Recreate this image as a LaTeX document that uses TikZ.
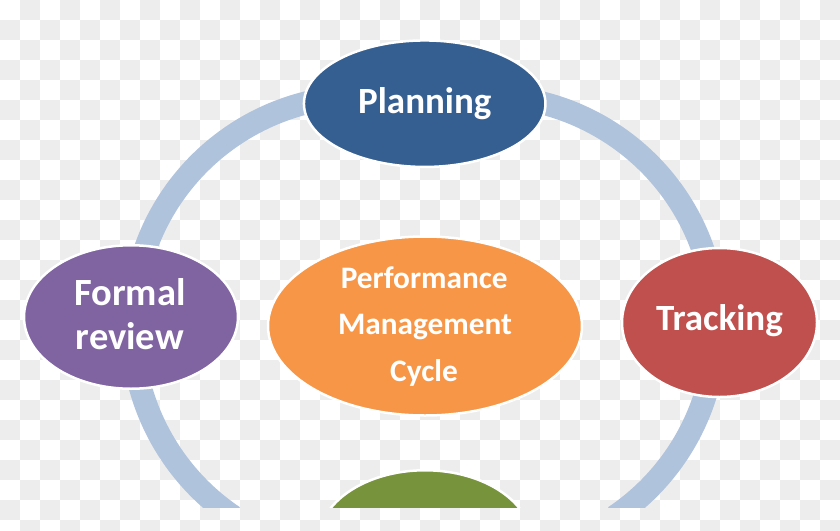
\documentclass[tikz,border=0pt]{standalone}
\usepackage{fontspec}
\newfontfamily\calfont{Carlito}
\usetikzlibrary{shapes.geometric}
\definecolor{ringc}{RGB}{176,195,221}
\definecolor{chk}{RGB}{237,237,237}
\definecolor{planc}{RGB}{54,95,145}
\definecolor{trackc}{RGB}{192,80,77}
\definecolor{formc}{RGB}{128,100,162}
\definecolor{pmcc}{RGB}{247,150,70}
\definecolor{greenc}{RGB}{119,147,60}
\begin{document}
\begin{tikzpicture}[x=1pt,y=-1pt,
  ell/.style={ellipse, draw=white, line width=2.5pt, inner sep=0pt},
  ring/.style={draw=ringc, line width=23pt},
  lbl/.style={text=white, font=\calfont\bfseries\fontsize{37}{42}\selectfont, anchor=base, inner sep=0pt},
  lblf/.style={text=white, font=\calfont\bfseries\fontsize{38.5}{44}\selectfont, anchor=base, inner sep=0pt},
  lblc/.style={text=white, font=\calfont\bfseries\fontsize{31.3}{37}\selectfont, anchor=base, inner sep=0pt}]
\useasboundingbox (0,0) rectangle (840,530);
\clip (0,0) rectangle (840,530);
% checkerboard background
\fill[white] (0,0) rectangle (840,530);
\foreach \i in {0,...,20}{
  \foreach \j in {0,...,13}{
    \fill[chk] (40*\i+20,40*\j) rectangle ++(20,20);
    \fill[chk] (40*\i,40*\j+20) rectangle ++(20,20);
  }
}
\begin{scope}
\clip (0,0) rectangle (840,507);
% ring centres
\coordinate (cl) at (362,326);
\coordinate (cr) at (486,326);
\draw[ring] (cl) ++(74.4:230pt) arc[start angle=74.4, end angle=236, radius=230pt];
\draw[ring] (cr) ++(105.6:230pt) arc[start angle=105.6, end angle=-56, radius=230pt];
% nodes
\node[ell, fill=planc, minimum width=241.5pt, minimum height=126.5pt] (plan) at (424.7,103.7) {};
\node[ell, fill=trackc, minimum width=195pt, minimum height=149pt] (track) at (719.5,322.5) {};
\node[ell, fill=formc, minimum width=214pt, minimum height=143.5pt] (form) at (131,317) {};
\node[ell, fill=pmcc, minimum width=314pt, minimum height=179pt] (pmc) at (425,326) {};
\node[ell, fill=greenc, minimum width=214pt, minimum height=143.5pt] (exec) at (425,542) {};
\end{scope}
% labels
\node[lbl] (planT) at (424.8,113.3) {Planning};
\node[lbl] (trackT) at (719.5,330) {Tracking};
\node[lblf] (formT1) at (129.8,305) {Formal};
\node[lblf] (formT2) at (129.8,349.3) {review};
\node[lblc] (pmcT1) at (424.3,288.3) {Performance};
\node[lblc] (pmcT2) at (425,334) {Management};
\node[lblc] (pmcT3) at (424,381.7) {Cycle};
\end{tikzpicture}
\end{document}
